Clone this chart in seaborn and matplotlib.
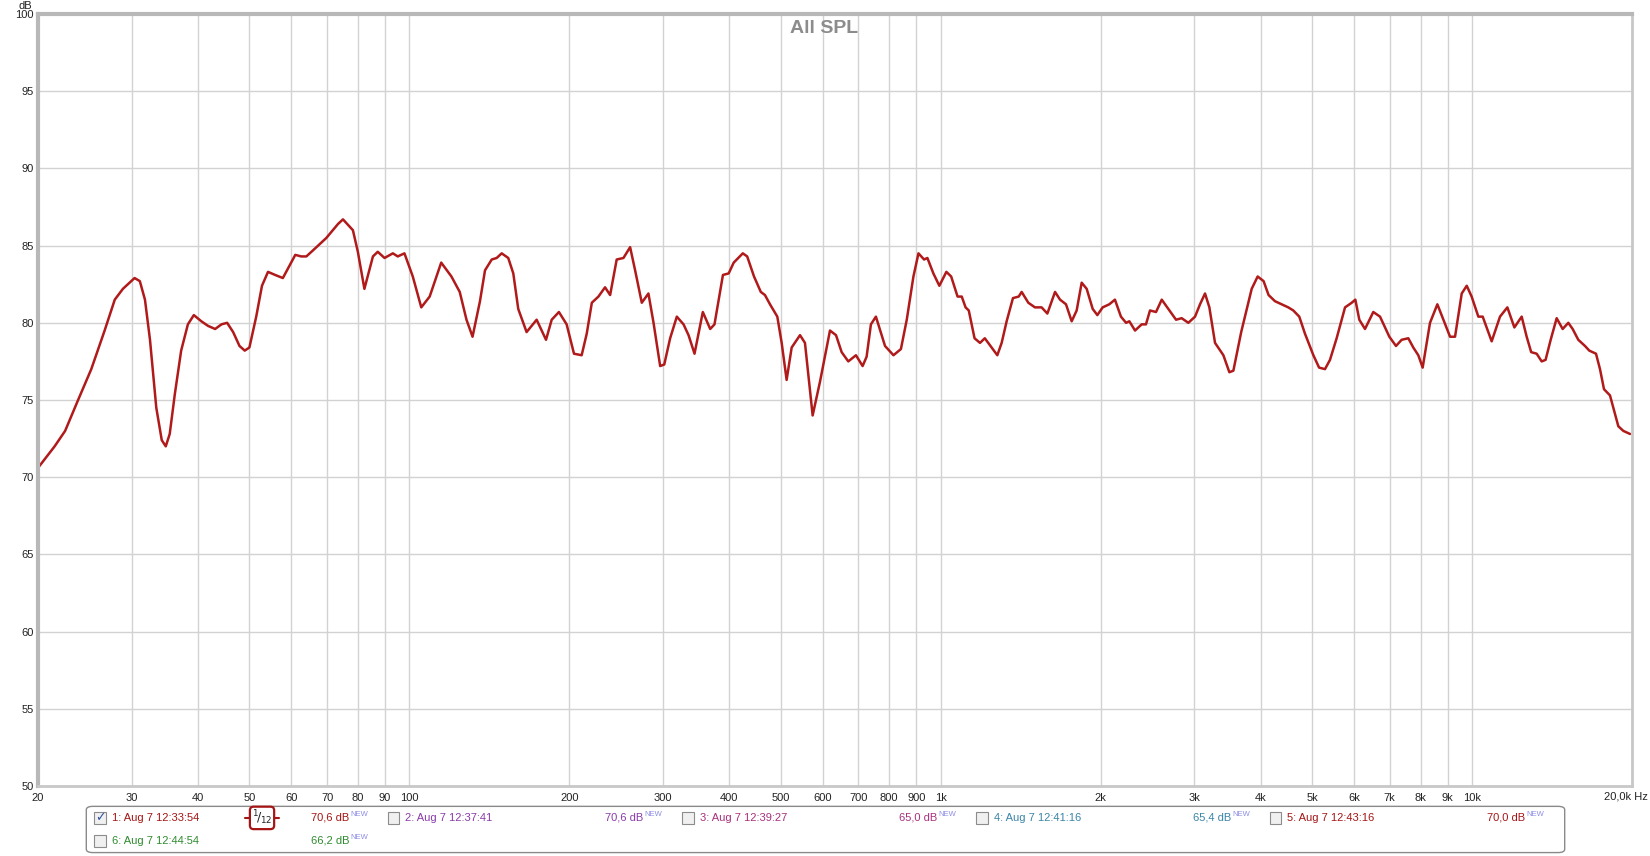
import matplotlib
matplotlib.use("Agg")
import matplotlib.pyplot as plt
import seaborn as sns
import pandas as pd
from matplotlib.patches import Rectangle, FancyBboxPatch
from matplotlib.lines import Line2D

# measured SPL curve (Hz, dB), 1/12 octave smoothing
freq_hz = [
    20.0, 21.5, 22.5, 23.8, 25.2, 26.7, 27.9, 28.9, 30.4, 31.1, 31.8, 32.5, 33.4,
    34.2, 34.8, 35.4, 36.2, 37.2, 38.3, 39.3, 40.6, 41.8, 43.1, 44.3, 45.4, 46.6,
    47.9, 49.0, 50.0, 51.5, 52.8, 54.2, 55.9, 57.8, 59.5, 61.0, 62.6, 64.0, 65.9,
    67.8, 69.8, 71.8, 73.4, 75.0, 78.3, 80.0, 82.3, 85.4, 87.2, 89.8, 93.1, 95.1,
    97.9, 101.5, 105.3, 109.2, 114.8, 120.0, 124.4, 128.1, 131.5, 135.8, 138.8,
    142.9, 146.0, 149.2, 153.5, 156.9, 160.3, 166.2, 173.6, 180.8, 185.3, 191.2,
    197.7, 204.1, 211.0, 215.7, 220.5, 226.9, 233.5, 238.7, 245.6, 252.9, 260.3,
    266.0, 273.8, 281.8, 288.1, 296.5, 301.8, 309.6, 318.7, 328.1, 335.3, 344.1,
    356.7, 368.3, 375.2, 389.2, 399.0, 407.8, 424.2, 432.3, 445.3, 458.6, 466.9,
    477.2, 492.6, 502.0, 512.9, 524.2, 543.5, 555.3, 574.1, 592.8, 618.9, 635.3,
    651.0, 670.0, 692.6, 712.9, 725.3, 739.0, 755.2, 785.6, 814.9, 841.6, 863.2,
    888.5, 908.1, 930.5, 943.9, 968.7, 994.1, 1024.8, 1046.4, 1075.8, 1095.4,
    1113.8, 1129.3, 1157.9, 1185.6, 1210.6, 1246.9, 1278.0, 1302.3, 1330.8,
    1367.6, 1402.0, 1420.3, 1461.8, 1504.5, 1548.5, 1587.4, 1641.2, 1677.2,
    1721.0, 1764.0, 1802.5, 1842.1, 1882.5, 1932.1, 1971.4, 2017.5, 2076.5,
    2127.6, 2183.7, 2232.6, 2264.7, 2321.3, 2389.1, 2433.8, 2476.8, 2542.2,
    2606.1, 2682.2, 2772.6, 2841.0, 2924.5, 3010.5, 3076.4, 3143.7, 3203.5,
    3282.9, 3404.1, 3493.3, 3554.7, 3677.1, 3848.3, 3949.1, 4052.1, 4140.1,
    4256.8, 4381.7, 4509.6, 4608.4, 4729.5, 4847.2, 5027.7, 5153.1, 5286.9,
    5402.8, 5561.0, 5767.0, 5936.2, 6030.0, 6135.0, 6288.0, 6518.0, 6711.0,
    6987.0, 7192.0, 7370.0, 7586.0, 7752.0, 7922.0, 8073.0, 8334.0, 8604.0,
    8832.0, 9090.0, 9289.0, 9562.0, 9772.0, 9982.0, 10276.0, 10472.0, 10887.0,
    11287.0, 11653.0, 12012.0, 12399.0, 12670.0, 12920.0, 13231.0, 13521.0,
    13752.0, 14059.0, 14429.0, 14809.0, 15175.0, 15464.0, 15846.0, 16314.0,
    16618.0, 17110.0, 17409.0, 17713.0, 18179.0, 18577.0, 18848.0, 19259.0,
    19828.0,
]
spl_db = [
    70.6, 72.0, 73.0, 75.0, 77.0, 79.5, 81.5, 82.2, 82.9, 82.7, 81.5, 78.9, 74.5,
    72.4, 72.0, 72.8, 75.4, 78.2, 79.9, 80.5, 80.1, 79.8, 79.6, 79.9, 80.0, 79.4,
    78.5, 78.2, 78.4, 80.4, 82.4, 83.3, 83.1, 82.9, 83.7, 84.4, 84.3, 84.3, 84.7,
    85.1, 85.5, 86.0, 86.4, 86.7, 86.0, 84.6, 82.2, 84.3, 84.6, 84.2, 84.5, 84.3,
    84.5, 83.0, 81.0, 81.7, 83.9, 83.0, 82.0, 80.2, 79.1, 81.4, 83.4,
    84.1, 84.2, 84.5, 84.2, 83.2, 80.9, 79.4, 80.2, 78.9, 80.2, 80.7,
    79.9, 78.0, 77.9, 79.3, 81.3, 81.7, 82.3, 81.8, 84.1, 84.2, 84.9,
    83.4, 81.3, 81.9, 80.0, 77.2, 77.3, 79.0, 80.4, 79.9, 79.2, 78.0,
    80.7, 79.6, 79.9, 83.1, 83.2, 83.9, 84.5, 84.3, 83.0, 82.0, 81.8,
    81.2, 80.4, 78.7, 76.3, 78.4, 79.2, 78.7, 74.0, 76.2, 79.5, 79.2,
    78.1, 77.5, 77.9, 77.2, 77.8, 79.9, 80.4, 78.5, 77.9, 78.3, 80.2,
    83.0, 84.5, 84.1, 84.2, 83.2, 82.4, 83.3, 83.0, 81.7, 81.7,
    81.0, 80.8, 79.0, 78.7, 79.0, 78.4, 77.9, 78.7, 80.1,
    81.6, 81.7, 82.0, 81.3, 81.0, 81.0, 80.6, 82.0, 81.5,
    81.2, 80.1, 80.8, 82.6, 82.2, 80.9, 80.5, 81.0, 81.2,
    81.5, 80.4, 80.0, 80.1, 79.5, 79.9, 79.9, 80.8, 80.7,
    81.5, 80.9, 80.2, 80.3, 80.0, 80.4, 81.2, 81.9, 81.0,
    78.7, 77.9, 76.8, 76.9, 79.4, 82.2, 83.0, 82.7, 81.8,
    81.4, 81.2, 81.0, 80.8, 80.4, 79.3, 77.9, 77.1, 77.0,
    77.6, 79.0, 81.0, 81.3, 81.5, 80.2, 79.6, 80.7, 80.4,
    79.1, 78.5, 78.9, 79.0, 78.4, 77.9, 77.1, 80.0, 81.2,
    80.2, 79.1, 79.1, 81.9, 82.4, 81.7, 80.4, 80.4, 78.8,
    80.4, 81.0, 79.7, 80.4, 79.1, 78.1, 78.0, 77.5,
    77.6, 78.9, 80.3, 79.6, 80.0, 79.6, 78.9, 78.5,
    78.2, 78.0, 77.0, 75.7, 75.3, 74.1, 73.3, 73.0,
    72.8,
]

x_ticks = [20, 30, 40, 50, 60, 70, 80, 90, 100, 200, 300, 400, 500, 600, 700,
           800, 900, 1000, 2000, 3000, 4000, 5000, 6000, 7000, 8000, 9000,
           10000, 20000]
x_labels = ['20', '30', '40', '50', '60', '70', '80', '90', '100', '200', '300',
            '400', '500', '600', '700', '800', '900', '1k', '2k', '3k', '4k',
            '5k', '6k', '7k', '8k', '9k', '10k', '']
y_ticks = [50, 55, 60, 65, 70, 75, 80, 85, 90, 95, 100]

# legend of the measurement list
meas_names = ['1: Aug 7 12:33:54', '2: Aug 7 12:37:41', '3: Aug 7 12:39:27',
              '4: Aug 7 12:41:16', '5: Aug 7 12:43:16', '6: Aug 7 12:44:54']
meas_levels = ['70,6 dB', '70,6 dB', '65,0 dB', '65,4 dB', '70,0 dB', '66,2 dB']
meas_colors = ['#a51515', '#8a3aa8', '#a8307c', '#3a85a8', '#a51515', '#2e8b2e']


def main():
    sns.set_style("white")
    plt.rcParams['font.family'] = ['Liberation Sans', 'DejaVu Sans']

    df = pd.DataFrame({'freq': freq_hz, 'spl': spl_db})

    fig = plt.figure(figsize=(16.5, 8.56), dpi=100)
    ax = fig.add_axes([0.0230, 0.0818, 0.9661, 0.9018])

    sns.lineplot(data=df, x='freq', y='spl', ax=ax, color='#b01a1a',
                 linewidth=1.8, sort=False, solid_joinstyle='round',
                 solid_capstyle='round')

    ax.set_xscale('log')
    ax.set_xlim(20, 20000)
    ax.set_ylim(50, 100)
    ax.set_xticks(x_ticks)
    ax.set_xticklabels(x_labels)
    ax.xaxis.set_minor_locator(plt.NullLocator())
    ax.set_yticks(y_ticks)
    ax.set_yticklabels([str(v) for v in y_ticks])
    ax.tick_params(axis='both', length=0, labelsize=8, colors='#222222')
    ax.tick_params(axis='x', pad=5)
    ax.tick_params(axis='y', pad=3)
    ax.set_xlabel('')
    ax.set_ylabel('')

    ax.grid(True, which='major', color='#d2d2d2', linewidth=1.0)
    for side in ['left', 'top']:
        ax.spines[side].set_color('#b8b8b8')
        ax.spines[side].set_linewidth(3.0)
    for side in ['right', 'bottom']:
        ax.spines[side].set_color('#c8c8c8')
        ax.spines[side].set_linewidth(2.0)

    fig.text(0.4995, 0.9670, 'All SPL', ha='center', va='center',
             fontsize=14, fontweight='bold', color='#8c8c8c')
    fig.text(0.0195, 0.9935, 'dB', ha='right', va='center', fontsize=8,
             color='#222222')
    # end label of the frequency axis
    fig.text(0.9985, 0.0690, '20,0k Hz', ha='right', va='center', fontsize=8,
             color='#222222')

    # measurement list box
    box = FancyBboxPatch((0.0523, 0.004), 0.8960, 0.054,
                         boxstyle='round,pad=0,rounding_size=0.004',
                         transform=fig.transFigure, fc='white',
                         ec='#8a8a8a', lw=1.0)
    fig.patches.append(box)

    rows = [0.0449, 0.0449, 0.0449, 0.0449, 0.0449, 0.0178]
    cols = [0.0606, 0.2385, 0.4171, 0.5950, 0.7730, 0.0606]
    for i in range(6):
        cx, cy = cols[i], rows[i]
        chk = Rectangle((cx - 0.0035, cy - 0.0075), 0.0070, 0.0145,
                        transform=fig.transFigure, fc='#f0f0f0',
                        ec='#8c8c8c', lw=0.8)
        fig.patches.append(chk)
        if i == 0:
            fig.text(cx, cy, '\u2713', ha='center', va='center', fontsize=9,
                     color='#3050a0', family=['DejaVu Sans'])
        fig.text(cx + 0.0072, cy, meas_names[i], ha='left', va='center',
                 fontsize=8, color=meas_colors[i])
        lx = cx + 0.1280
        fig.text(lx, cy, meas_levels[i], ha='left', va='center',
                 fontsize=8, color=meas_colors[i])
        fig.text(lx + 0.0238, cy + 0.004, 'NEW', ha='left', va='center',
                 fontsize=5.5, color='#8c8ce6')

    # smoothing indicator of the active measurement
    fig.lines.append(Line2D([0.1485, 0.1690], [0.0449, 0.0449],
                            transform=fig.transFigure, color='#a51515', lw=1.5))
    fig.text(0.1588, 0.0445, r'$^1\!/_{12}$', ha='center', va='center',
             fontsize=9, color='#222222',
             bbox=dict(boxstyle='round,pad=0.15,rounding_size=0.3', fc='white',
                       ec='#a51515', lw=1.6))

    fig.savefig('out.png', dpi=100, facecolor='white')


if __name__ == "__main__":
    main()
